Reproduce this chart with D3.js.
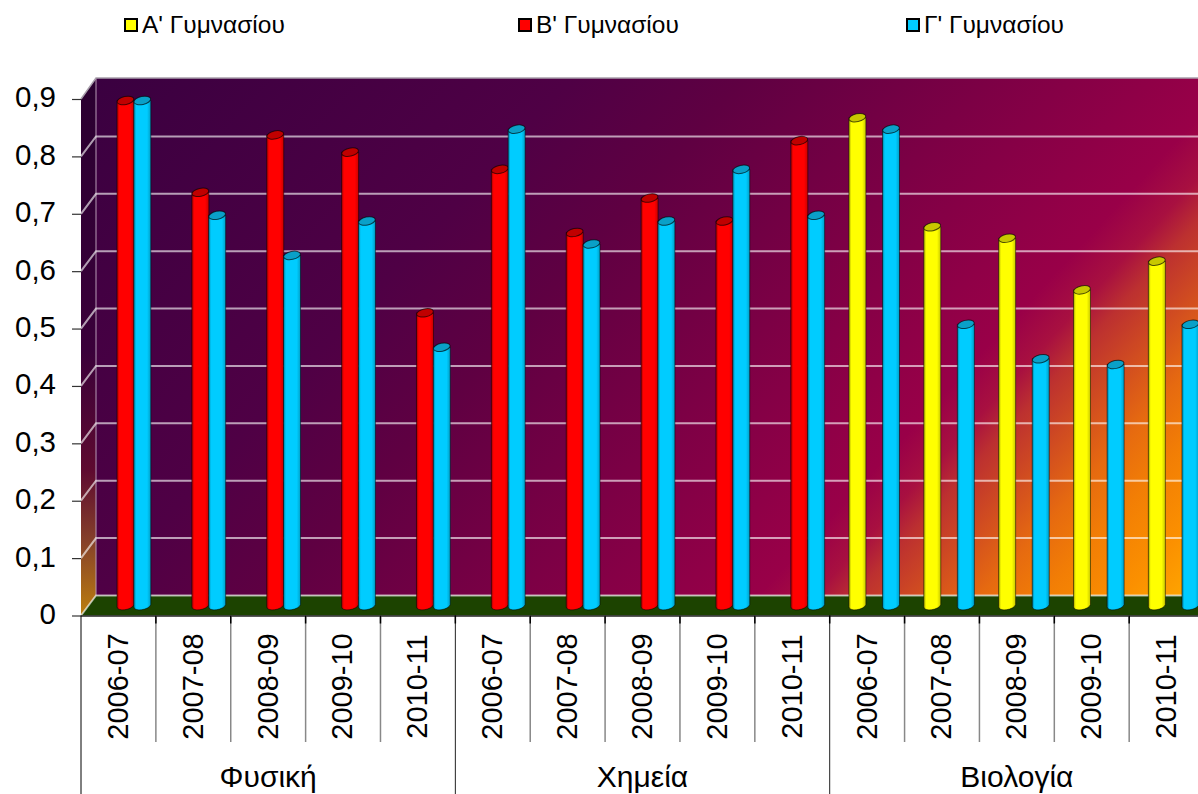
<!DOCTYPE html>
<html>
<head>
<meta charset="utf-8">
<script src="https://cdn.jsdelivr.net/npm/d3@7"></script>
<style>
html, body { margin: 0; padding: 0; background: #fff; overflow: hidden; }
text { font-family: "Liberation Sans", Arial, sans-serif; fill: #000; }
</style>
</head>
<body>
<svg id="chart" width="1198" height="794"></svg>
<script>
var seasons = ['2006-07', '2007-08', '2008-09', '2009-10', '2010-11'];
var subjects = ['Φυσική', 'Χημεία', 'Βιολογία'];
var yTicks = [0, 0.1, 0.2, 0.3, 0.4, 0.5, 0.6, 0.7, 0.8, 0.9];

var seriesNames = ["Α' Γυμνασίου", "Β' Γυμνασίου", "Γ' Γυμνασίου"];
var seriesColors = ['#ffff00', '#ff0000', '#00ccff'];
var seriesDark = ['#c8c800', '#c00000', '#0aa0c8'];

// null = the class does not have the subject
var gradeA = [null, null, null, null, null, null, null, null, null, null, 0.85, 0.66, 0.64, 0.55, 0.60];
var gradeB = [0.88, 0.72, 0.82, 0.79, 0.51, 0.76, 0.65, 0.71, 0.67, 0.81, null, null, null, null, null];
var gradeC = [0.88, 0.68, 0.61, 0.67, 0.45, 0.83, 0.63, 0.67, 0.76, 0.68, 0.83, 0.49, 0.43, 0.42, 0.49];

var svg = d3.select('#chart');
var defs = svg.append('defs');

var margin = {left: 81, top: 99, bottom: 615.5};
var depth = {x: 15, y: 20};
var bandWidth = 74.87;
var barWidth = 17;

var keys = [];
subjects.forEach(function(s) {
    seasons.forEach(function(y) { keys.push(s + '|' + y); });
});

var x = d3.scaleBand().domain(keys).range([margin.left, margin.left + bandWidth * keys.length]);
var y = d3.scaleLinear().domain([0, 0.9]).range([margin.bottom, margin.top]);

/**
 * Build a linear gradient from [offset, colour] pairs.
 */
function gradient(id, coords, stops) {
    var g = defs.append('linearGradient').attr('id', id)
        .attr('gradientUnits', 'userSpaceOnUse')
        .attr('x1', coords[0]).attr('y1', coords[1])
        .attr('x2', coords[2]).attr('y2', coords[3]);
    stops.forEach(function(s) {
        g.append('stop').attr('offset', s[0]).attr('stop-color', s[1]);
    });
}

gradient('wallFill', [96, 78, 953, 866], [
    [0, '#3a0040'], [0.3, '#4f0045'], [0.41, '#5f0042'], [0.72, '#990048'],
    [0.755, '#a81040'], [0.78, '#bc3030'], [0.86, '#e66a10'], [0.9, '#f27e05'],
    [0.95, '#fb9000'], [1, '#ffaa00']
]);
gradient('sideFill', [0, 78, 0, 616], [
    [0, '#2a0030'], [0.506, '#3a003a'], [0.729, '#5e0a30'], [0.859, '#85402a'], [0.989, '#b87a10']
]);

function cylGradient(id, color) {
    var g = defs.append('linearGradient').attr('id', id);
    [[0, d3.color(color).darker(1.3)], [0.14, color], [0.78, color], [1, d3.color(color).darker(0.7)]]
        .forEach(function(s) {
            g.append('stop').attr('offset', s[0]).attr('stop-color', s[1]);
        });
}
seriesColors.forEach(function(c, i) { cylGradient('cyl' + i, c); });

var plotRight = 1198;

// walls
svg.append('rect')
    .attr('x', margin.left + depth.x).attr('y', margin.top - depth.y - 1)
    .attr('width', plotRight - margin.left - depth.x)
    .attr('height', margin.bottom - margin.top + 1)
    .attr('fill', 'url(#wallFill)');
svg.append('path')
    .attr('d', d3.line()([
        [margin.left, margin.top], [margin.left + depth.x, margin.top - depth.y - 1],
        [margin.left + depth.x, margin.bottom - depth.y], [margin.left, margin.bottom]
    ]) + 'Z')
    .attr('fill', 'url(#sideFill)');

// floor
svg.append('path')
    .attr('d', d3.line()([
        [margin.left, margin.bottom], [margin.left + depth.x, margin.bottom - depth.y],
        [plotRight, margin.bottom - depth.y], [plotRight, margin.bottom]
    ]) + 'Z')
    .attr('fill', '#1c4300');

// top and corner edges of the box
svg.append('path')
    .attr('d', d3.line()([
        [margin.left, margin.top], [margin.left + depth.x, margin.top - depth.y - 1], [plotRight, margin.top - depth.y - 1]
    ]))
    .attr('fill', 'none').attr('stroke', '#a9a0ac').attr('stroke-width', 1.5);
svg.append('line')
    .attr('x1', margin.left + depth.x).attr('x2', margin.left + depth.x)
    .attr('y1', margin.top - depth.y).attr('y2', margin.bottom - depth.y)
    .attr('stroke', '#b79ab5').attr('stroke-width', 1);

// gridlines
yTicks.slice(0, -1).forEach(function(t) {
    var yy = y(t);
    svg.append('path')
        .attr('d', d3.line()([
            [margin.left, yy], [margin.left + depth.x, yy - depth.y], [plotRight, yy - depth.y]
        ]))
        .attr('fill', 'none')
        .attr('stroke', '#ffffff').attr('stroke-opacity', 0.62).attr('stroke-width', 2);
});

/**
 * Draw one cylinder: body with a skewed foot, and a tilted top cap.
 */
function cylinder(cx, value, s) {
    var rx = barWidth / 2;
    var ry = 4;
    var base = margin.bottom - 10;
    var top = base - (margin.bottom - y(value));
    var g = svg.append('g');
    var body = 'M' + (cx - rx) + ',' + top + 'L' + (cx - rx) + ',' + (base + 1)
        + 'A' + rx + ',' + ry + ' -12 0 0 ' + (cx + rx) + ',' + (base - 1)
        + 'L' + (cx + rx) + ',' + top + 'Z';
    g.append('path').attr('d', body).attr('fill', 'url(#cyl' + s + ')')
        .attr('stroke', '#000').attr('stroke-opacity', 0.5).attr('stroke-width', 1);
    g.append('ellipse')
        .attr('cx', cx).attr('cy', top).attr('rx', rx).attr('ry', ry)
        .attr('transform', 'rotate(-12 ' + cx + ' ' + top + ')')
        .attr('fill', seriesDark[s])
        .attr('stroke', '#000').attr('stroke-opacity', 0.65).attr('stroke-width', 1);
}

// every band holds three slots, one per class
[gradeA, gradeB, gradeC].forEach(function(values, s) {
    values.forEach(function(v, i) {
        if (v === null) { return; }
        cylinder(x(keys[i]) + 27.7 + s * 16.8, v, s);
    });
});

// y axis
var yAxis = d3.axisLeft(y).tickValues(yTicks).tickSize(9).tickPadding(16)
    .tickFormat(function(d) { return d === 0 ? '0' : d3.format('.1f')(d).replace('.', ','); });
var yG = svg.append('g').attr('transform', 'translate(' + margin.left + ',0)').call(yAxis);
yG.select('.domain').remove();
yG.selectAll('line').attr('stroke', '#333').attr('stroke-width', 1.2);
yG.selectAll('text').attr('dy', '0.27em').style('font-size', '29.5px');

// x axis: baseline, season ticks, subject dividers
var bottomY = 794;
svg.append('line')
    .attr('x1', margin.left).attr('x2', plotRight)
    .attr('y1', margin.bottom + 0.5).attr('y2', margin.bottom + 0.5)
    .attr('stroke', '#222').attr('stroke-width', 1.5);
keys.forEach(function(k, i) {
    var left = x(k);
    var major = i % seasons.length === 0;
    if (i > 0) {
        svg.append('line')
            .attr('x1', left).attr('x2', left)
            .attr('y1', margin.bottom).attr('y2', major ? bottomY : 742)
            .attr('stroke', major ? '#222' : '#888').attr('stroke-width', major ? 1 : 1.5);
        svg.append('line')
            .attr('x1', left).attr('x2', left)
            .attr('y1', margin.bottom).attr('y2', margin.bottom + 8)
            .attr('stroke', '#000').attr('stroke-width', 1.5);
    }
    svg.append('text')
        .attr('transform', 'translate(' + (left + bandWidth / 2 - 1) + ',686.5) rotate(-90)')
        .attr('text-anchor', 'middle').attr('dy', '0.36em')
        .style('font-size', '29px')
        .text(k.split('|')[1]);
});
svg.append('line')
    .attr('x1', margin.left).attr('x2', margin.left)
    .attr('y1', margin.bottom).attr('y2', bottomY)
    .attr('stroke', '#000').attr('stroke-width', 1);

subjects.forEach(function(s, i) {
    var left = x(keys[i * seasons.length]);
    svg.append('text')
        .attr('x', left + bandWidth * seasons.length / 2).attr('y', 787)
        .attr('text-anchor', 'middle')
        .style('font-size', '30px')
        .text(s);
});

// legend
var legendX = [125, 519, 907];
seriesNames.forEach(function(name, i) {
    var g = svg.append('g').attr('transform', 'translate(' + legendX[i] + ',19)');
    g.append('rect').attr('width', 12).attr('height', 12)
        .attr('fill', seriesColors[i]).attr('stroke', '#000').attr('stroke-width', 2);
    g.append('text').attr('x', 17).attr('y', 14).style('font-size', '24.5px').text(name);
});
</script>
</body>
</html>
